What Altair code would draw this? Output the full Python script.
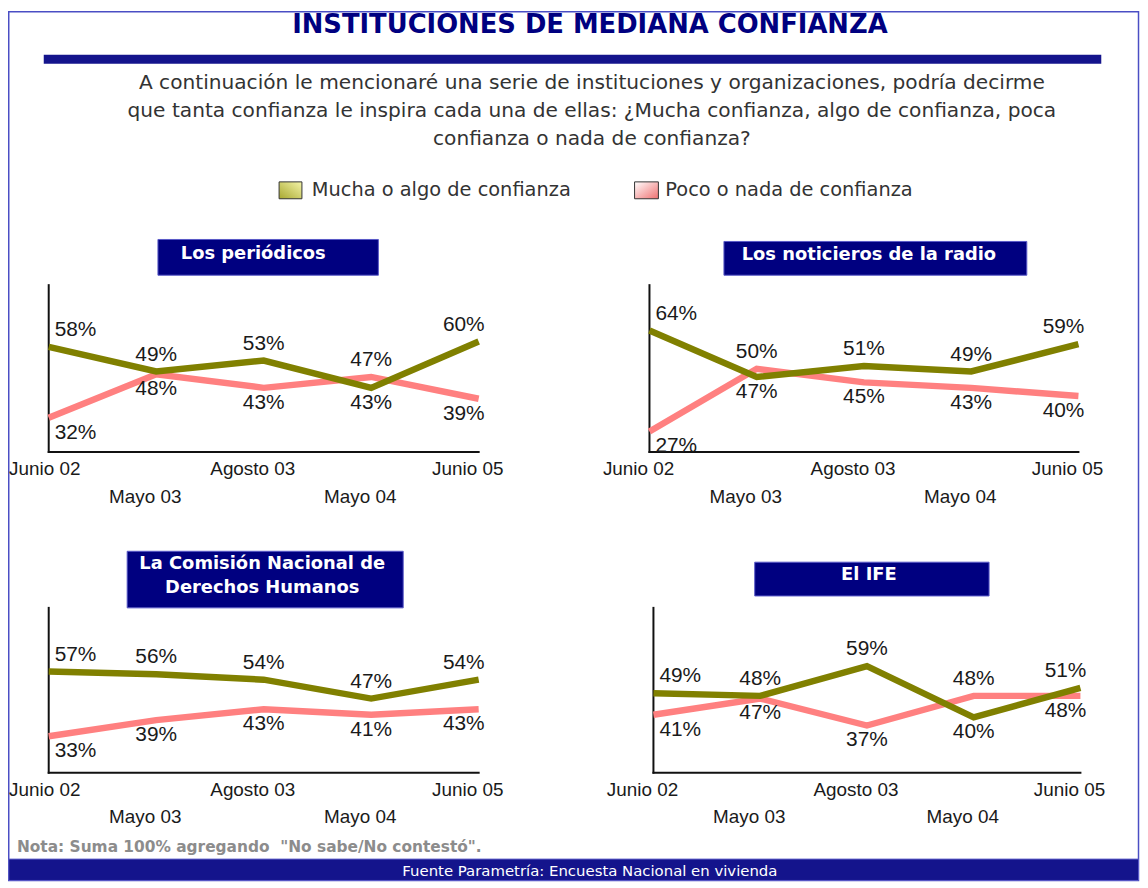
import altair as alt
import pandas as pd

# ---------------- data ----------------
periodos = ["Junio 02", "Mayo 03", "Agosto 03", "Mayo 04", "Junio 05"]
series = ["Mucha o algo de confianza", "Poco o nada de confianza"]

periodicos_mucha = [58, 49, 53, 43, 60]
periodicos_poco = [32, 48, 43, 47, 39]
radio_mucha = [64, 47, 51, 49, 59]
radio_poco = [27, 50, 45, 43, 40]
cndh_mucha = [57, 56, 54, 47, 54]
cndh_poco = [33, 39, 43, 41, 43]
ife_mucha = [49, 48, 59, 40, 51]
ife_poco = [41, 47, 37, 48, 48]

titulo = "INSTITUCIONES DE MEDIANA CONFIANZA"
pregunta = [
    "A continuación le mencionaré una serie de instituciones y organizaciones, podría decirme",
    "que tanta confianza le inspira cada una de ellas: ¿Mucha confianza, algo de confianza, poca",
    "confianza o nada de confianza?",
]
nota = "Nota: Suma 100% agregando \u00a0\"No sabe/No contestó\"."
fuente = "Fuente Parametría: Encuesta Nacional en vivienda"

panel_titulos = [
    ["Los periódicos"],
    ["Los noticieros de la radio"],
    ["La Comisión Nacional de", "Derechos Humanos"],
    ["El IFE"],
]

# ---------------- style / layout ----------------
NAVY = "#000080"
BAR = "#14148c"
OLIVE = "#808000"
PINK = "#ff8080"
W, H = 1140, 880
FONT = "DejaVu Sans"
NUMFONT = "Liberation Sans"

layouts = [
    dict(x0=41, x1=474, yt=275, yb=444, bx=(151, 373), by=(230, 266), tx=247, ty=[245]),
    dict(x0=646, x1=1078, yt=275, yb=444, bx=(721, 1026), by=(232, 266), tx=867, ty=[246]),
    dict(x0=41, x1=474, yt=600, yb=767, bx=(120, 398), by=(544, 601), tx=256, ty=[557, 581]),
    dict(x0=650, x1=1080, yt=600, yb=767, bx=(752, 988), by=(555, 589), tx=867, ty=[568]),
]

uno = pd.DataFrame({"k": [0]})


def tabla(mucha, poco):
    filas = []
    for i, p in enumerate(periodos):
        for s, vals, otros in ((series[0], mucha, poco), (series[1], poco, mucha)):
            filas.append({
                "periodo": p, "idx": i, "serie": s, "valor": vals[i],
                "etiqueta": f"{vals[i]}%",
                "arriba": bool(vals[i] > otros[i] or (vals[i] == otros[i] and s == series[0])),
            })
    return pd.DataFrame(filas)


def panel(df, lay, lineas):
    xs = alt.X("periodo:N", sort=periodos,
               scale=alt.Scale(type="point", domain=periodos, range=[lay["x0"], lay["x1"]], padding=0),
               axis=None)
    ys = alt.Y("valor:Q",
               scale=alt.Scale(domain=[19.5, 81], range=[lay["yb"], lay["yt"]], nice=False, zero=False),
               axis=None)
    base = alt.Chart(df)
    capas = []
    # title box
    capas.append(alt.Chart(uno).mark_rect(fill=NAVY, stroke="#5a5ac8", strokeWidth=1).encode(
        x=alt.value(lay["bx"][0]), x2=alt.value(lay["bx"][1]),
        y=alt.value(lay["by"][0]), y2=alt.value(lay["by"][1])))
    for linea, ty in zip(lineas, lay["ty"]):
        capas.append(alt.Chart(uno).mark_text(font=FONT, fontSize=18, fontWeight="bold", color="white",
                                               align="center", baseline="middle").encode(
            x=alt.value(lay["tx"]), y=alt.value(ty), text=alt.value(linea)))
    # axis lines
    capas.append(base.transform_filter(f"datum.idx == 0 && datum.serie == '{series[0]}'").mark_rule(
        color="#111111", strokeWidth=2).encode(x=xs, y=alt.value(lay["yt"]), y2=alt.value(lay["yb"] + 1)))
    capas.append(alt.Chart(uno).mark_rule(color="#111111", strokeWidth=2).encode(
        x=alt.value(lay["x0"] - 1), x2=alt.value(lay["x1"] + 1), y=alt.value(lay["yb"])))
    # lines
    capas.append(base.transform_filter(f"datum.serie == '{series[1]}'").mark_line(
        color=PINK, strokeWidth=6.5).encode(x=xs, y=ys))
    capas.append(base.transform_filter(f"datum.serie == '{series[0]}'").mark_line(
        color=OLIVE, strokeWidth=6.5).encode(x=xs, y=ys))
    # value labels
    for cond, dx in (("datum.idx == 0", 27), ("datum.idx > 0 && datum.idx < 4", 0), ("datum.idx == 4", -15)):
        for arr, dy in (("datum.arriba", -17), ("!datum.arriba", 15)):
            capas.append(base.transform_filter(f"({cond}) && {arr}").mark_text(
                font=NUMFONT, fontSize=21, color="#1a1a1a", align="center", baseline="middle",
                dx=dx, dy=dy).encode(x=xs, y=ys, text="etiqueta:N"))
    # period labels (two staggered rows); the first one is kept inside the page
    for cond, yy, dx in (("datum.idx == 0", lay["yb"] + 17, -4 if lay["x0"] < 60 else -11),
                         ("datum.idx == 2 || datum.idx == 4", lay["yb"] + 17, -11),
                         ("datum.idx % 2 == 1", lay["yb"] + 45, -11)):
        capas.append(base.transform_filter(f"({cond}) && datum.serie == '{series[0]}'").mark_text(
            font=NUMFONT, fontSize=19, color="#1a1a1a", align="center", baseline="middle", dx=dx).encode(
            x=xs, y=alt.value(yy), text="periodo:N"))
    return alt.layer(*capas)


datos = [
    tabla(periodicos_mucha, periodicos_poco),
    tabla(radio_mucha, radio_poco),
    tabla(cndh_mucha, cndh_poco),
    tabla(ife_mucha, ife_poco),
]
paneles = [panel(d, l, t) for d, l, t in zip(datos, layouts, panel_titulos)]

# ---------------- decorations ----------------
decor = []
decor.append(alt.Chart(uno).mark_rect(fill="white", stroke="#4a4ec4", strokeWidth=1.5).encode(
    x=alt.value(0.75), x2=alt.value(1138.5), y=alt.value(0.75), y2=alt.value(875.5)))
decor.append(alt.Chart(uno).mark_text(font=FONT, fontSize=26, fontWeight="bold", color=NAVY,
                                      align="center", baseline="middle").encode(
    x=alt.value(586), y=alt.value(14), text=alt.value(titulo)))
decor.append(alt.Chart(uno).mark_rect(fill=BAR).encode(
    x=alt.value(36), x2=alt.value(1101), y=alt.value(44), y2=alt.value(53)))
for linea, yy in zip(pregunta, (72, 101, 129)):
    decor.append(alt.Chart(uno).mark_text(font=FONT, fontSize=20.3, color="#333333",
                                          align="center", baseline="middle").encode(
        x=alt.value(588), y=alt.value(yy), text=alt.value(linea)))
# legend
grad_verde = alt.LinearGradient(gradient="linear", x1=0, y1=1, x2=1, y2=0,
                                stops=[alt.GradientStop(color="#a8a830", offset=0),
                                       alt.GradientStop(color="#f4f4a8", offset=1)])
grad_rosa = alt.LinearGradient(gradient="linear", x1=0, y1=0, x2=1, y2=1,
                               stops=[alt.GradientStop(color="#ffffff", offset=0),
                                      alt.GradientStop(color="#f07070", offset=1)])
for (sx0, sx1, tx), nombre, grad in (((273, 296, 306), series[0], grad_verde),
                                     ((631, 655, 662), series[1], grad_rosa)):
    decor.append(alt.Chart(uno).mark_rect(color=grad, stroke="#333333", strokeWidth=1).encode(
        x=alt.value(sx0), x2=alt.value(sx1), y=alt.value(172), y2=alt.value(189)))
    decor.append(alt.Chart(uno).mark_text(font=FONT, fontSize=19.5, color="#333333",
                                          align="left", baseline="middle").encode(
        x=alt.value(tx), y=alt.value(180), text=alt.value(nombre)))
# footer
decor.append(alt.Chart(uno).mark_text(font=FONT, fontSize=15.5, fontWeight="bold", color="#8c8c8c",
                                      align="left", baseline="middle").encode(
    x=alt.value(9), y=alt.value(842), text=alt.value(nota)))
decor.append(alt.Chart(uno).mark_rect(fill=BAR, stroke="#5a5ac8", strokeWidth=1).encode(
    x=alt.value(0.75), x2=alt.value(1138.5), y=alt.value(854), y2=alt.value(875.5)))
decor.append(alt.Chart(uno).mark_text(font=FONT, fontSize=15, color="white",
                                      align="center", baseline="middle").encode(
    x=alt.value(586), y=alt.value(866), text=alt.value(fuente)))

chart = alt.layer(*decor, *paneles).resolve_scale(x="independent", y="independent").properties(
    width=W, height=H, padding=0, background="white",
    autosize=alt.AutoSizeParams(type="none"),
).configure_view(stroke=None)

chart.save("out.html", embed_options={"renderer": "svg", "actions": False})
